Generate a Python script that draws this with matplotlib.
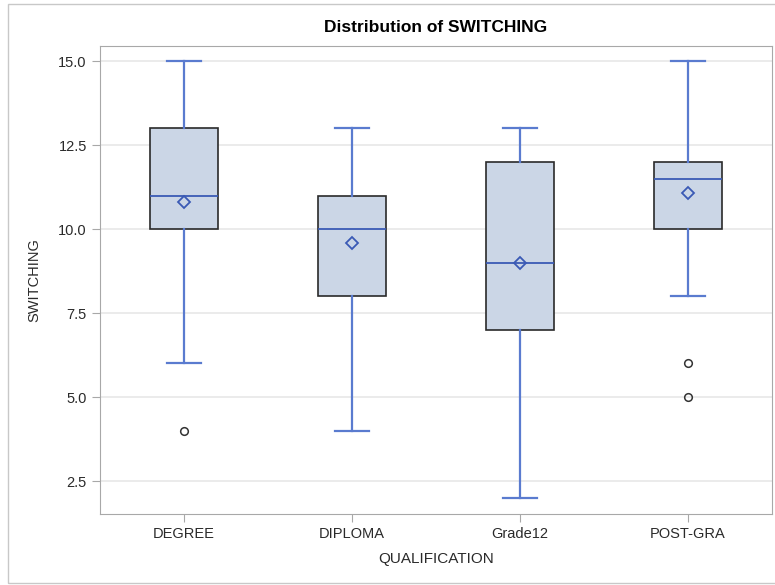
import matplotlib
matplotlib.use("Agg")
import matplotlib.pyplot as plt
from matplotlib.patches import Rectangle

categories = ["DEGREE", "DIPLOMA", "Grade12", "POST-GRA"]
whisker_low = [6, 4, 2, 8]
q1 = [10, 8, 7, 10]
median = [11, 10, 9, 11.5]
q3 = [13, 11, 12, 12]
whisker_high = [15, 13, 13, 15]
means = [10.82, 9.58, 9.0, 11.08]
outliers = [[4], [], [], [5, 6]]
yticks = [2.5, 5.0, 7.5, 10.0, 12.5, 15.0]

plt.rcParams['font.family'] = ['Liberation Sans', 'DejaVu Sans']

fig = plt.figure(figsize=(7.75, 5.85), dpi=100)
ax = fig.add_axes([100/775, 1 - 514/585, 672/775, 468/585])

stats = []
for i, c in enumerate(categories):
    stats.append(dict(label=c, whislo=whisker_low[i], q1=q1[i], med=median[i],
                      q3=q3[i], whishi=whisker_high[i], mean=means[i],
                      fliers=outliers[i]))

pos = [i + 0.5 for i in range(len(categories))]
blue = "#5a7bcf"
ax.bxp(stats, positions=pos, widths=0.4, patch_artist=True, showmeans=True,
       boxprops=dict(facecolor="#cbd6e6", edgecolor="#2a2a2a", linewidth=1.2),
       whiskerprops=dict(color=blue, linewidth=1.6),
       capprops=dict(color=blue, linewidth=1.6),
       medianprops=dict(color="#3a5ab5", linewidth=1.3),
       meanprops=dict(marker="D", markerfacecolor="none", markeredgecolor="#3a5ab5",
                      markersize=6.5, markeredgewidth=1.3),
       flierprops=dict(marker="o", markerfacecolor="none", markeredgecolor="#333333",
                       markersize=5.5, markeredgewidth=1.1),
       zorder=3)

ax.set_xlim(0, 4)
ax.set_ylim(1.52, 15.45)
ax.set_xticks(pos)
ax.set_xticklabels(categories, fontsize=10.5)
ax.set_yticks(yticks)
ax.set_yticklabels([f"{v:.1f}" for v in yticks], fontsize=10.5)
ax.yaxis.grid(True, color="#e8e8e8", linewidth=1.2, zorder=0)
ax.set_axisbelow(True)
for s in ax.spines.values():
    s.set_color("#a8a8a8")
ax.tick_params(colors="#a8a8a8", labelcolor="#2a2a2a", length=6)
ax.set_title("Distribution of SWITCHING", fontsize=12.5, fontweight="bold", pad=10)
ax.set_ylabel("SWITCHING", fontsize=10.5, color="#2a2a2a", labelpad=12)
ax.set_xlabel("QUALIFICATION", fontsize=11, color="#2a2a2a", labelpad=8)

fig.patches.append(Rectangle((8/775, 1 - 583/585), 1 - 8/775 + 0.01, 579/585,
                             transform=fig.transFigure, fill=False,
                             edgecolor="#c8c8c8", linewidth=1.0))

fig.savefig("out.png", dpi=100)
